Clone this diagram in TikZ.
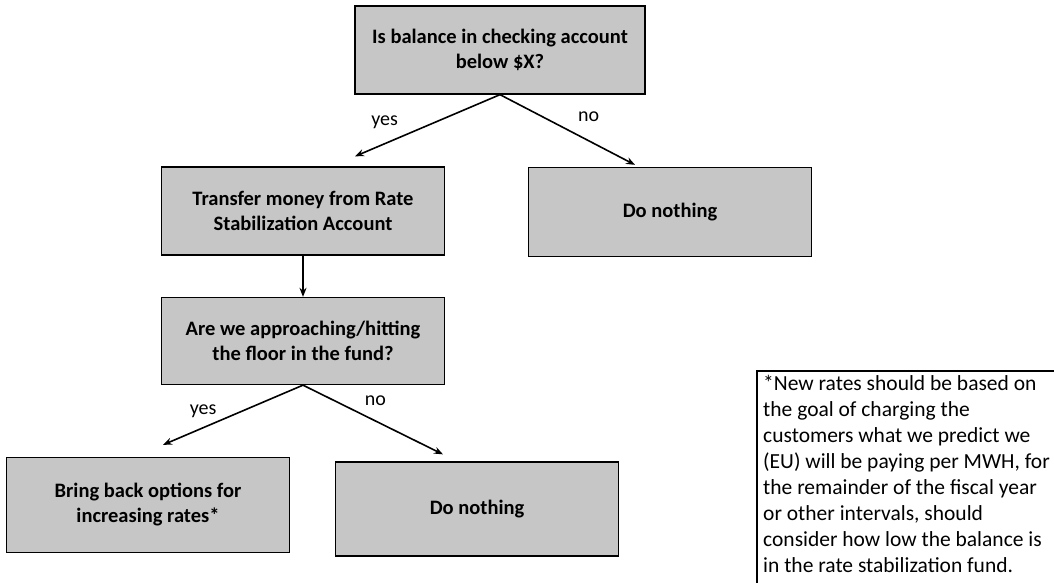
\documentclass[tikz,border=0pt]{standalone}
\usepackage{fontspec}
\setmainfont{Carlito}
\usetikzlibrary{arrows.meta}
\definecolor{boxgray}{RGB}{198,198,198}

\begin{document}
\begin{tikzpicture}[x=1pt,y=-1pt,
    box/.style={draw,line width=1.3pt,fill=boxgray,minimum width=283pt,minimum height=88pt,
      align=center,font=\fontsize{20.5}{25}\selectfont\bfseries},
    arr/.style={-{Stealth[length=9pt,width=7pt]},line width=1.6pt},
    lbl/.style={font=\fontsize{20}{24}\selectfont,inner sep=0pt},
    note/.style={text width=300pt,align=flush left,inner xsep=6pt,inner ysep=4pt,
      font=\fontsize{21.5}{26}\selectfont}]
  \clip (0,0) rectangle (1054,583);

  % question boxes and outcomes
  \node[box,minimum width=290pt] (balance) at (500,50) {Is balance in checking account\\below \$X?};
  \node[box] (transfer) at (303,211) {Transfer money from Rate\\Stabilization Account};
  \node[box,minimum height=89pt] (nothing1) at (670,212) {Do nothing};
  \node[box,minimum height=87pt] (floor) at (303,341) {Are we approaching/hitting\\the floor in the fund?};
  \node[box,minimum height=95pt] (bring) at (148,505) {Bring back options for\\increasing rates*};
  \node[box,minimum height=94pt] (nothing2) at (477,509) {Do nothing};

  % footnote, cut off at the right and bottom
  \node[note,anchor=north west] (footnote) at (757,371)
    {*New rates should be based on\\
     the goal of charging the\\
     customers what we predict we\\
     (EU) will be paying per MWH, for\\
     the remainder of the fiscal year\\
     or other intervals, should\\
     consider how low the balance is\\
     in the rate stabilization fund.};
  \draw[line width=1.1pt] (footnote.north west) rectangle ++(320,240);

  % connectors
  \draw[arr] (balance.south) -- node[lbl,pos=0.74,xshift=-8pt,yshift=18pt] (yes1) {yes}
    ([xshift=52pt,yshift=10pt]transfer.north);
  \draw[arr] (balance.south) -- node[lbl,pos=0.59,xshift=9pt,yshift=19pt] (no1) {no}
    ([xshift=-35pt,yshift=2pt]nothing1.north);
  \draw[arr] (transfer.south) -- (floor.north);
  \draw[arr] (floor.south) -- node[lbl,pos=0.67,xshift=-6pt,yshift=14pt] (yes2) {yes}
    ([xshift=15pt,yshift=12pt]bring.north);
  \draw[arr] (floor.south) -- node[lbl,pos=0.46,xshift=8pt,yshift=16pt] (no2) {no}
    ([xshift=-34pt,yshift=7pt]nothing2.north);
\end{tikzpicture}
\end{document}
